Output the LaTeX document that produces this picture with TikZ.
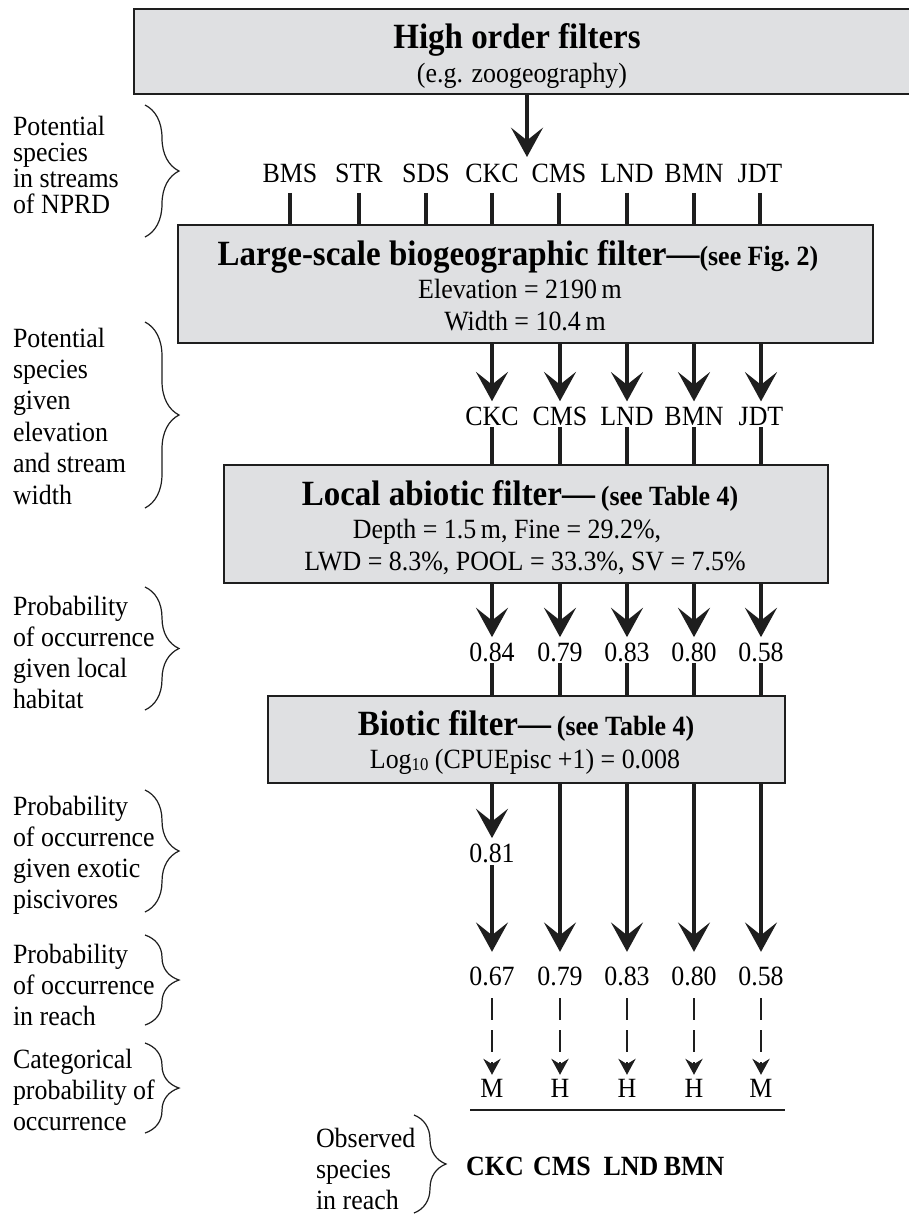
\documentclass[tikz,border=0pt]{standalone}
\usepackage{fontspec}
\setmainfont{Liberation Serif}[FakeStretch=0.93]
\usetikzlibrary{arrows.meta,decorations.pathreplacing}
\definecolor{boxfill}{RGB}{223,224,226}
\definecolor{ink}{RGB}{30,30,30}
\begin{document}
\begin{tikzpicture}[x=0.75pt,y=-0.75pt,
  fbox/.style={draw=ink, line width=1.5pt, fill=boxfill, inner sep=0pt, outer sep=0pt, anchor=north west},
  txt/.style={inner sep=0pt, outer sep=0pt, font=\fontsize{20.9}{24}\selectfont, text=black},
  ttl/.style={inner sep=0pt, outer sep=0pt, font=\fontsize{26.6}{30}\selectfont\bfseries, text=black},
  conn/.style={draw=ink, line width=2.4pt},
  bigarrow/.style={conn, -{Stealth[length=22pt,width=24pt,inset=9.5pt]}},
  dasharrow/.style={draw=ink, line width=1.1pt, dash pattern=on 16pt off 8pt, -{Stealth[length=12pt,width=13pt,inset=4pt]}},
  brc/.style={draw=ink, line width=0.9pt, decorate, decoration={brace, amplitude=25.5pt}},
]
\useasboundingbox (0,0) rectangle (908,1215);
\fill[white] (0,0) rectangle (908,1215);

% boxes
\node[fbox, minimum width=585.75pt, minimum height=63.75pt] (b1) at (134,9) {};
\node[fbox, minimum width=521.25pt, minimum height=88.5pt] (b2) at (178,225) {};
\node[fbox, minimum width=453pt, minimum height=88.5pt] (b3) at (224,465) {};
\node[fbox, minimum width=387.75pt, minimum height=65.25pt] (b4) at (268,696) {};

% box texts
\node[ttl, anchor=base] (t1) at (517,48) {High order filters};
\node[txt, anchor=base] (t1s) at (522,82) {(e.g. zoogeography)};
\node[ttl, anchor=base] (t2) at (518,265) {Large-scale biogeographic filter—{\fontsize{20.9}{24}\selectfont(see Fig.~2)}};
\node[txt, anchor=base] (t2a) at (520,298) {Elevation = 2190\,m};
\node[txt, anchor=base] (t2b) at (525,330) {Width = 10.4\,m};
\node[ttl, anchor=base] (t3) at (520,505) {Local abiotic filter—\,{\fontsize{20.9}{24}\selectfont(see Table 4)}};
\node[txt, anchor=base] (t3a) at (507,538) {Depth = 1.5\,m, Fine = 29.2\%,};
\node[txt, anchor=base] (t3b) at (525,570) {LWD = 8.3\%, POOL = 33.3\%, SV = 7.5\%};
\node[ttl, anchor=base] (t4) at (526,735) {Biotic filter—\,{\fontsize{20.9}{24}\selectfont(see Table 4)}};
\node[txt, anchor=base] (t4a) at (525,768) {Log\raisebox{-1.5pt}{\fontsize{13.5}{14}\selectfont 10} (CPUEpisc +1) = 0.008};

% top arrow
\coordinate (t0) at (527,157);
\draw[bigarrow] (t0 |- b1.south) -- (t0);

% row 1: potential species
\foreach \nm/\xx [count=\i] in {BMS/290,STR/359,SDS/426,CKC/492,CMS/559,LND/627,BMN/694,JDT/760}{
  \node[txt, anchor=base] (a\i) at (\xx,182) {\nm};
  \draw[conn] ([yshift=-8pt]a\i.south) -- (a\i.south |- b2.north);
}

% row 2: species after large-scale filter
\foreach \nm/\xx [count=\i] in {CKC/492,CMS/560,LND/627,BMN/694,JDT/761}{
  \node[txt, anchor=base] (c\i) at (\xx,425) {\nm};
  \draw[bigarrow] (c\i |- b2.south) -- ([yshift=4pt]c\i.north);
  \draw[conn] ([yshift=-1.5pt]c\i.south) -- (c\i.south |- b3.north);
}

% row 3: probabilities given local habitat
\foreach \nm/\xx [count=\i] in {0.84/492,0.79/560,0.83/627,0.80/694,0.58/761}{
  \node[txt, anchor=base] (v\i) at (\xx,661) {\nm};
  \draw[bigarrow] (v\i |- b3.south) -- ([yshift=4pt]v\i.north);
  \draw[conn] ([yshift=-1.5pt]v\i.south) -- (v\i.south |- b4.north);
}

% row 4: probability in reach
\foreach \nm/\xx [count=\i] in {0.67/492,0.79/560,0.83/627,0.80/694,0.58/761}{
  \node[txt, anchor=base] (r\i) at (\xx,985) {\nm};
}
\node[txt, anchor=base] (p81) at (492,862) {0.81};
\draw[bigarrow] (p81 |- b4.south) -- ([yshift=4pt]p81.north);
\draw[bigarrow] ([yshift=-2pt]p81.south) -- ([yshift=11pt]r1.north);
\foreach \i in {2,...,5}{
  \draw[bigarrow] (r\i |- b4.south) -- ([yshift=11pt]r\i.north);
}

% row 5: categories
\foreach \nm/\xx [count=\i] in {M/492,H/560,H/627,H/694,M/761}{
  \node[txt, anchor=base] (m\i) at (\xx,1097) {\nm};
  \draw[dasharrow] ([yshift=-9.75pt]r\i.south) -- ([yshift=3pt]m\i.north);
}
\coordinate (hl1) at (470,1110);
\coordinate (hl2) at (785,1110);
\draw[ink, line width=1.4pt] (hl1) -- (hl2);

% observed species
\foreach \nm/\xx [count=\i] in {CKC/495,CMS/562,LND/631,BMN/694}{
  \node[txt, font=\fontsize{20.9}{24}\selectfont\bfseries, anchor=base] (o\i) at (\xx,1175) {\nm};
}
\foreach \ln [count=\i] in {Observed,species,in reach}{
  \node[txt, anchor=base west] (ol\i) at (316,1147+31*\i-31) {\ln};
}
\draw[brc, decoration={brace, amplitude=24pt}] (414,1115) -- (414,1213);

% left labels
\foreach \ln [count=\i] in {Potential,species,in streams,of NPRD}{
  \node[txt, anchor=base west] (l1-\i) at (13,135+26*\i-26) {\ln};
}
\draw[brc] (145,105) -- (145,237);

\foreach \ln [count=\i] in {Potential,species,given,elevation,and stream,width}{
  \node[txt, anchor=base west] (l2-\i) at (13,347+31.4*\i-31.4) {\ln};
}
\draw[brc] (145,322) -- (145,508);

\foreach \ln [count=\i] in {Probability,of occurrence,given local,habitat}{
  \node[txt, anchor=base west] (l3-\i) at (13,615+31.3*\i-31.3) {\ln};
}
\draw[brc] (145,587) -- (145,710);

\foreach \ln [count=\i] in {Probability,of occurrence,given exotic,piscivores}{
  \node[txt, anchor=base west] (l4-\i) at (13,815+31.3*\i-31.3) {\ln};
}
\draw[brc] (145,790) -- (145,912);

\foreach \ln [count=\i] in {Probability,of occurrence,in reach}{
  \node[txt, anchor=base west] (l5-\i) at (13,963+31*\i-31) {\ln};
}
\draw[brc] (145,935) -- (145,1025);

\foreach \ln [count=\i] in {Categorical,probability of,occurrence}{
  \node[txt, anchor=base west] (l6-\i) at (13,1068+31*\i-31) {\ln};
}
\draw[brc] (145,1043) -- (145,1133);

\end{tikzpicture}
\end{document}
